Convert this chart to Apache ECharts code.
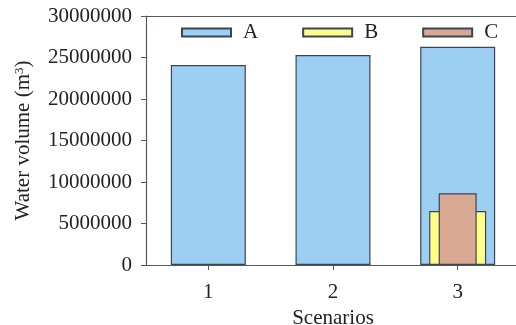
<!DOCTYPE html>
<html>
<head>
<meta charset="utf-8">
<script src="https://cdn.jsdelivr.net/npm/echarts@6/dist/echarts.min.js"></script>
<style>
html,body{margin:0;padding:0;background:#fff;}
#chart{width:516px;height:325px;}
</style>
</head>
<body>
<div id="chart"></div>
<script>
var categories = ['1', '2', '3'];
var seriesNames = ['A', 'B', 'C'];
var valuesA = [24100000, 25300000, 26300000];
var valuesB = [null, 60000, 6500000];
var valuesC = [null, null, 8650000];
var yTicks = [0, 5000000, 10000000, 15000000, 20000000, 25000000, 30000000];

var font = '"Liberation Serif", "Times New Roman", serif';
var axisCol = '#555a60';
var border = '#3b4654';

function catAxis(show) {
  return {
    type: 'category', data: categories, boundaryGap: true, show: show,
    axisLine: { show: true, lineStyle: { color: axisCol, width: 1.2 } },
    axisTick: { show: true, alignWithLabel: true, length: 5, lineStyle: { color: axisCol } },
    axisLabel: { fontFamily: font, fontSize: 21, color: '#222', margin: 17 },
    name: show ? 'Scenarios' : '', nameLocation: 'middle', nameGap: 37,
    nameTextStyle: { fontFamily: font, fontSize: 21, color: '#222' }
  };
}

var chart = echarts.init(document.getElementById('chart'), null, { renderer: 'canvas' });
chart.setOption({
  animation: false,
  backgroundColor: '#fff',
  grid: { left: 146, right: -4, top: 16, bottom: 60, show: false, containLabel: false, outerBoundsMode: 'none' },
  legend: {
    left: 176, top: 17, itemWidth: 49, itemHeight: 8, itemGap: 44, icon: 'rect',
    data: seriesNames,
    textStyle: { fontFamily: font, fontSize: 21, color: '#222', padding: [0, 0, 0, 7] }
  },
  xAxis: [catAxis(true), catAxis(false), catAxis(false),
    { type: 'category', data: categories, position: 'top', axisLine: { show: true, lineStyle: { color: axisCol, width: 1.2 } }, axisTick: { show: false }, axisLabel: { show: false } }
  ],
  yAxis: {
    type: 'value', min: yTicks[0], max: yTicks[yTicks.length - 1], interval: yTicks[1] - yTicks[0],
    splitLine: { show: false },
    axisLine: { show: true, lineStyle: { color: axisCol, width: 1.2 } },
    axisTick: { show: true, length: 5, lineStyle: { color: axisCol } },
    axisLabel: { fontFamily: font, fontSize: 21, color: '#222', margin: 14, formatter: function (v) { return String(v); } },
    name: 'Water volume (m{sup|3})', nameLocation: 'middle', nameGap: 112, nameRotate: 90,
    nameTextStyle: { fontFamily: font, fontSize: 21, color: '#222',
      rich: { sup: { fontFamily: font, fontSize: 13, verticalAlign: 'top', padding: [0, 0, 8, 0], color: '#222' } } }
  },
  series: [
    { name: 'A', type: 'bar', xAxisIndex: 0, data: valuesA, barWidth: 75,
      itemStyle: { color: '#9dcff2', borderColor: border, borderWidth: 1.2 } },
    { name: 'B', type: 'bar', xAxisIndex: 1, data: valuesB, barWidth: 57,
      itemStyle: { color: '#ffff88', borderColor: border, borderWidth: 1.2 } },
    { name: 'C', type: 'bar', xAxisIndex: 2, data: valuesC, barWidth: 38,
      itemStyle: { color: '#d9a994', borderColor: border, borderWidth: 1.2 } }
  ]
});
</script>
</body>
</html>
